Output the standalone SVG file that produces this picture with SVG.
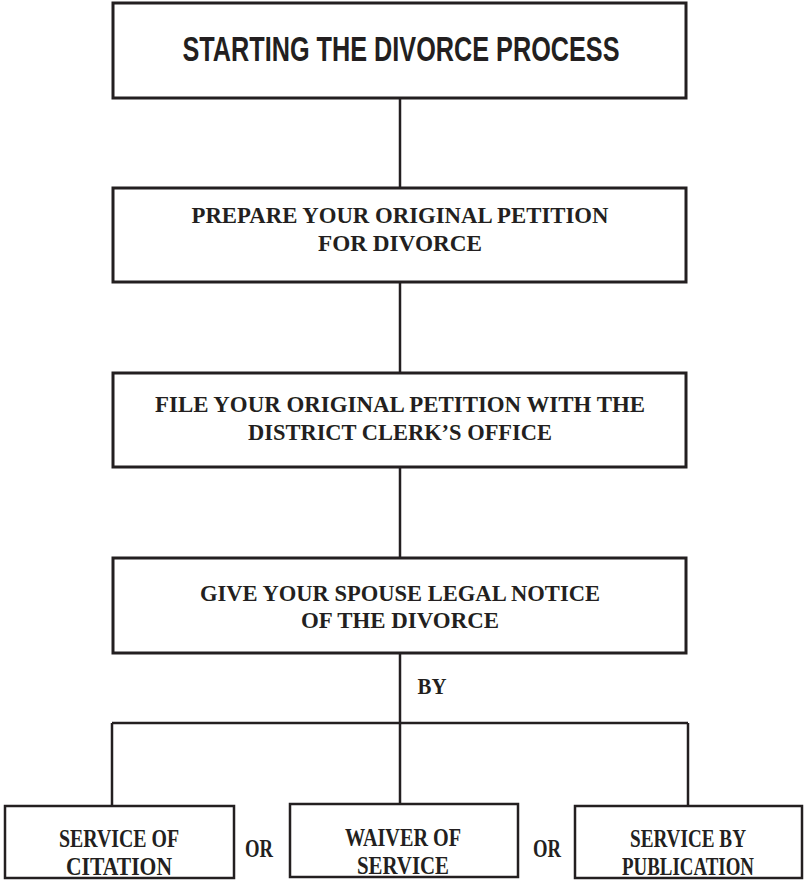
<svg xmlns="http://www.w3.org/2000/svg" width="804" height="882" viewBox="0 0 804 882">
  <style>
    .box { fill: #ffffff; stroke: #231f20; stroke-width: 3; }
    .small { fill: #ffffff; stroke: #231f20; stroke-width: 2.5; }
    .wire { fill: none; stroke: #231f20; stroke-width: 2.5; }
    .title { font-family: "Liberation Sans Narrow", "Liberation Sans", sans-serif; font-weight: bold; font-size: 35px; fill: #231f20; text-anchor: middle; }
    .label { font-family: "Liberation Serif", serif; font-weight: bold; font-size: 23px; fill: #231f20; text-anchor: middle; }
    .cond { font-family: "Liberation Serif", serif; font-weight: bold; font-size: 25px; fill: #231f20; text-anchor: middle; }
  </style>
  <rect width="804" height="882" fill="#ffffff"/>

  <g id="connectors">
    <line class="wire" x1="400" y1="98" x2="400" y2="188"/>
    <line class="wire" x1="400" y1="282" x2="400" y2="373"/>
    <line class="wire" x1="400" y1="467" x2="400" y2="558"/>
    <line class="wire" x1="400" y1="653" x2="400" y2="805"/>
    <line class="wire" x1="112" y1="723" x2="688" y2="723"/>
    <line class="wire" x1="112" y1="723" x2="112" y2="806"/>
    <line class="wire" x1="688" y1="723" x2="688" y2="806"/>
  </g>

  <g id="start">
    <rect class="box" x="113" y="3" width="573" height="95"/>
    <text class="title" x="401" y="61" textLength="437" lengthAdjust="spacingAndGlyphs">STARTING THE DIVORCE PROCESS</text>
  </g>

  <g id="prepare">
    <rect class="box" x="113" y="188" width="573" height="94"/>
    <text class="label" x="400" y="223" textLength="417" lengthAdjust="spacingAndGlyphs">PREPARE YOUR ORIGINAL PETITION</text>
    <text class="label" x="400" y="251" textLength="164" lengthAdjust="spacingAndGlyphs">FOR DIVORCE</text>
  </g>

  <g id="file">
    <rect class="box" x="113" y="373" width="573" height="94"/>
    <text class="label" x="400" y="412" textLength="490" lengthAdjust="spacingAndGlyphs">FILE YOUR ORIGINAL PETITION WITH THE</text>
    <text class="label" x="400" y="440" textLength="304" lengthAdjust="spacingAndGlyphs">DISTRICT CLERK’S OFFICE</text>
  </g>

  <g id="notice">
    <rect class="box" x="113" y="558" width="573" height="95"/>
    <text class="label" x="400" y="601" textLength="400" lengthAdjust="spacingAndGlyphs">GIVE YOUR SPOUSE LEGAL NOTICE</text>
    <text class="label" x="400" y="628" textLength="198" lengthAdjust="spacingAndGlyphs">OF THE DIVORCE</text>
  </g>

  <g id="by">
    <text class="label" x="432" y="694" textLength="29" lengthAdjust="spacingAndGlyphs">BY</text>
  </g>

  <g id="citation">
    <rect class="small" x="5" y="806" width="229" height="72"/>
    <text class="cond" x="119" y="847" textLength="120" lengthAdjust="spacingAndGlyphs">SERVICE OF</text>
    <text class="cond" x="119" y="875" textLength="106" lengthAdjust="spacingAndGlyphs">CITATION</text>
  </g>

  <g id="or1">
    <text class="cond" x="259" y="857" textLength="28" lengthAdjust="spacingAndGlyphs">OR</text>
  </g>

  <g id="waiver">
    <rect class="small" x="290" y="804" width="228" height="73"/>
    <text class="cond" x="403" y="846" textLength="116" lengthAdjust="spacingAndGlyphs">WAIVER OF</text>
    <text class="cond" x="403" y="874" textLength="92" lengthAdjust="spacingAndGlyphs">SERVICE</text>
  </g>

  <g id="or2">
    <text class="cond" x="547" y="857" textLength="28" lengthAdjust="spacingAndGlyphs">OR</text>
  </g>

  <g id="publication">
    <rect class="small" x="575" y="806" width="227" height="72"/>
    <text class="cond" x="688" y="847" textLength="116" lengthAdjust="spacingAndGlyphs">SERVICE BY</text>
    <text class="cond" x="688" y="875" textLength="132" lengthAdjust="spacingAndGlyphs">PUBLICATION</text>
  </g>
</svg>
